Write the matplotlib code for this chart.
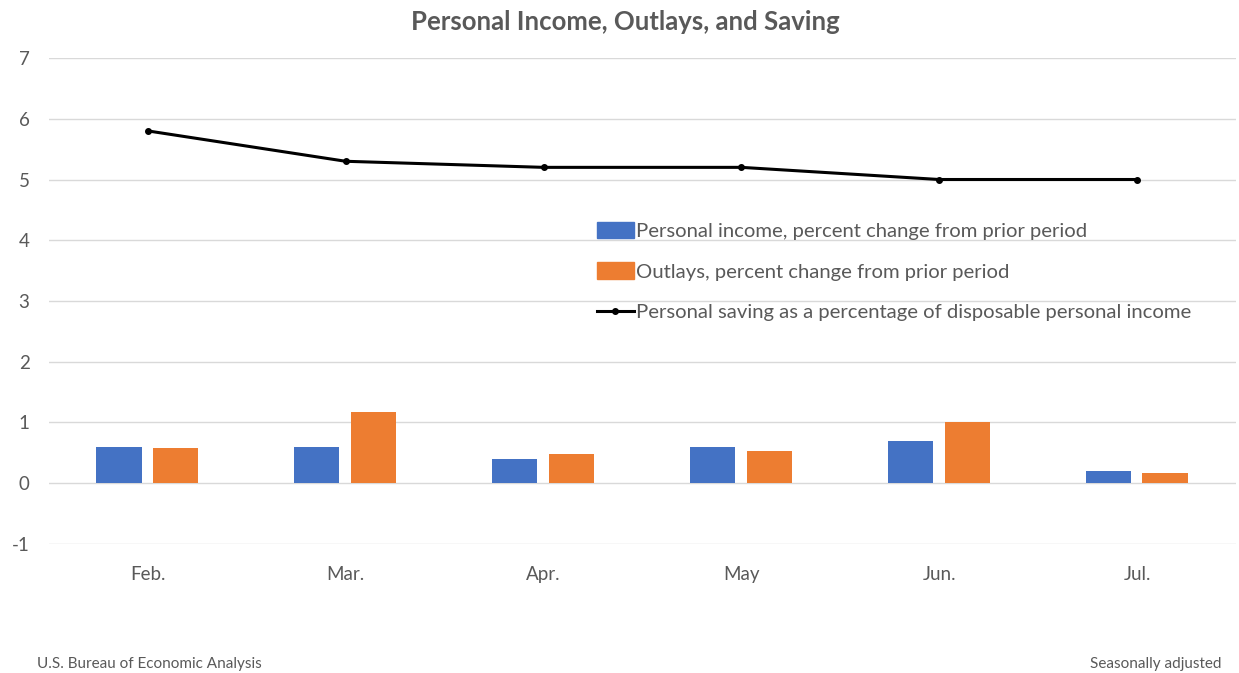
import numpy as np
import matplotlib
matplotlib.use("Agg")
import matplotlib.pyplot as plt
from matplotlib.lines import Line2D
from matplotlib.patches import Patch

# Data
months = ["Feb.", "Mar.", "Apr.", "May", "Jun.", "Jul."]
income = [0.6, 0.6, 0.4, 0.6, 0.7, 0.2]
outlays = [0.58, 1.17, 0.48, 0.53, 1.0, 0.17]
saving = [5.8, 5.3, 5.2, 5.2, 5.0, 5.0]

blue = "#4472c4"
orange = "#ed7d31"
gray = "#595959"

plt.rcParams['font.family'] = ['Lato', 'DejaVu Sans']
plt.rcParams['axes.unicode_minus'] = False

fig = plt.figure(figsize=(12.39, 6.73), dpi=100)
ax = fig.add_axes([0.0395, 0.1917, 0.9581, 0.7221])

x = np.arange(len(months))
w = 0.228
ax.bar(x - 0.146, income, width=w, color=blue, zorder=3)
ax.bar(x + 0.141, outlays, width=w, color=orange, zorder=3)
ax.plot(x, saving, color="black", lw=2.2, marker="o", markersize=4, zorder=4)

ax.set_xlim(-0.5, len(months) - 0.5)
ax.set_ylim(-1, 7)
ax.set_yticks(range(-1, 8))
ax.set_xticks(x)
ax.set_xticklabels(months)
ax.yaxis.grid(True, color="#d9d9d9", lw=1, zorder=0)
ax.tick_params(axis="both", length=0, labelsize=13.5, labelcolor=gray)
ax.tick_params(axis="x", pad=16)
ax.tick_params(axis="y", pad=14)
for s in ax.spines.values():
    s.set_visible(False)

handles = [
    Patch(color=blue),
    Patch(color=orange),
    Line2D([0], [0], color="black", lw=2.2, marker="o", markersize=4),
]
labels = [
    "Personal income, percent change from prior period",
    "Outlays, percent change from prior period",
    "Personal saving as a percentage of disposable personal income",
]
leg = ax.legend(handles, labels, loc="upper left", bbox_to_anchor=(0.455, 0.68),
                frameon=False, fontsize=14.6, labelspacing=1.1, handlelength=1.8,
                handleheight=0.9, handletextpad=0.1, borderaxespad=0)
for t in leg.get_texts():
    t.set_color(gray)

fig.text(0.505, 0.968, "Personal Income, Outlays, and Saving", ha="center", va="center",
         fontsize=18.5, fontweight="bold", color=gray)
fig.text(0.03, 0.003, "U.S. Bureau of Economic Analysis", ha="left", va="bottom",
         fontsize=11, color=gray)
fig.text(0.986, 0.003, "Seasonally adjusted", ha="right", va="bottom",
         fontsize=11, color=gray)

fig.savefig("out.png", dpi=100)
